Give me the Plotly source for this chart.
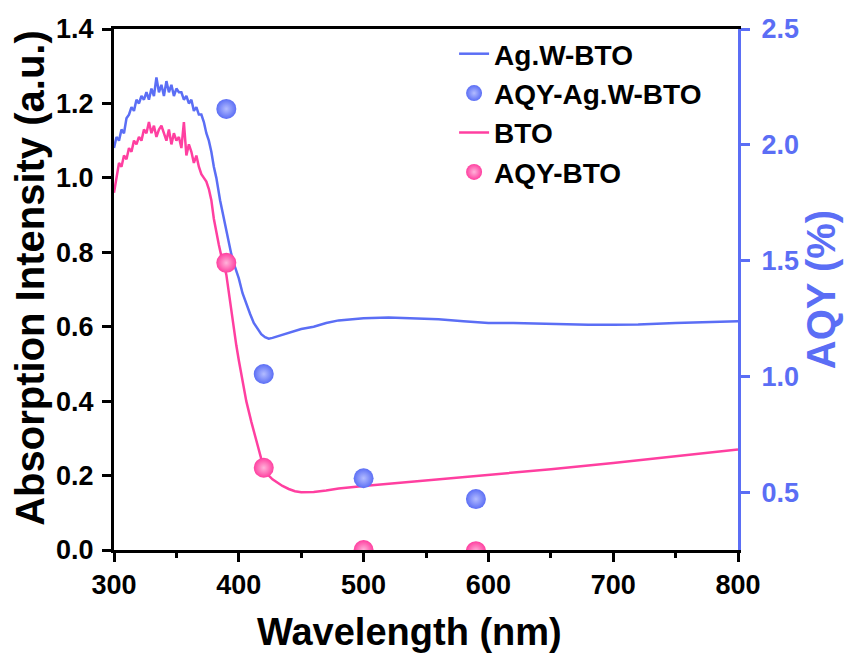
import plotly.graph_objects as go

# ---------------- data ----------------
wl_agw = [300, 302, 304, 306, 308, 310, 312, 314, 316, 318, 320, 322, 324, 326, 328,
          330, 332, 334, 336, 338, 340, 342, 344, 346, 348, 350, 352, 354, 356, 358,
          360, 362, 364, 366, 368, 370, 372, 374, 376, 378, 380, 382, 385, 388, 391,
          394, 397, 400, 403, 406, 409, 412, 415, 418, 421, 424, 427, 430, 435, 440,
          445, 450, 460, 470, 480, 490, 500, 520, 540, 560, 580, 600, 620, 650, 680,
          700, 720, 750, 780, 800]
abs_agw = [1.08, 1.11, 1.10, 1.13, 1.12, 1.16, 1.17, 1.19, 1.18, 1.21, 1.20, 1.22, 1.21, 1.23, 1.21,
           1.24, 1.22, 1.27, 1.23, 1.25, 1.22, 1.26, 1.23, 1.25, 1.22, 1.24, 1.23, 1.23, 1.21, 1.22,
           1.20, 1.21, 1.18, 1.19, 1.17, 1.17, 1.15, 1.12, 1.10, 1.07, 1.03, 1.00, 0.94, 0.89, 0.84,
           0.795, 0.76, 0.73, 0.69, 0.66, 0.635, 0.61, 0.595, 0.58, 0.572, 0.568, 0.57, 0.573, 0.58, 0.585,
           0.59, 0.594, 0.60, 0.61, 0.617, 0.62, 0.623, 0.625, 0.623, 0.62, 0.615, 0.61, 0.61, 0.607, 0.605,
           0.605, 0.606, 0.61, 0.612, 0.615]

wl_bto = [300, 302, 304, 306, 308, 310, 312, 314, 316, 318, 320, 322, 324, 326, 328,
          330, 332, 334, 336, 338, 340, 342, 344, 346, 348, 350, 352, 354, 356, 358,
          360, 362, 364, 366, 368, 370, 372, 374, 376, 378, 380, 382, 384, 386, 388,
          390, 392, 394, 396, 398, 400, 403, 406, 410, 414, 418, 421, 424, 427, 430,
          435, 440, 445, 450, 455, 460, 470, 480, 500, 520, 550, 580, 600, 650, 700,
          750, 800]
abs_bto = [0.96, 1.00, 1.04, 1.03, 1.06, 1.05, 1.08, 1.07, 1.10, 1.09, 1.11, 1.10, 1.13, 1.12, 1.15,
           1.12, 1.14, 1.11, 1.13, 1.14, 1.12, 1.10, 1.13, 1.09, 1.12, 1.10, 1.11, 1.08, 1.15, 1.06,
           1.09, 1.07, 1.04, 1.06, 1.03, 1.01, 1.00, 0.99, 0.97, 0.94, 0.89, 0.85, 0.82, 0.79, 0.77,
           0.74, 0.69, 0.64, 0.59, 0.55, 0.51, 0.455, 0.40, 0.345, 0.296, 0.245, 0.22, 0.20, 0.19, 0.183,
           0.172, 0.164, 0.158, 0.155, 0.155, 0.156, 0.16, 0.165, 0.172, 0.178, 0.187, 0.196, 0.202, 0.217, 0.234,
           0.252, 0.27]

aqy_wl = [390, 420, 500, 590]
aqy_agw = [2.155, 1.01, 0.56, 0.47]
aqy_bto = [1.49, 0.605, 0.25, 0.245]

x_ticks = [300, 400, 500, 600, 700, 800]
y_ticks = [0.0, 0.2, 0.4, 0.6, 0.8, 1.0, 1.2, 1.4]
y2_ticks = [0.5, 1.0, 1.5, 2.0, 2.5]

BLUE = "#5b6ef5"
PINK = "#ff3fa0"
FONT = "Liberation Sans"

fig = go.Figure()
fig.add_trace(go.Scatter(x=wl_agw, y=abs_agw, mode="lines", name="Ag.W-BTO",
                         line=dict(color=BLUE, width=2.5)))
fig.add_trace(go.Scatter(x=aqy_wl, y=aqy_agw, mode="markers", name="AQY-Ag.W-BTO", yaxis="y2",
                         marker=dict(color=BLUE, size=20,
                                     gradient=dict(type="radial", color="#b3bcff"))))
fig.add_trace(go.Scatter(x=wl_bto, y=abs_bto, mode="lines", name="BTO",
                         line=dict(color=PINK, width=2.5)))
fig.add_trace(go.Scatter(x=aqy_wl, y=aqy_bto, mode="markers", name="AQY-BTO", yaxis="y2",
                         marker=dict(color=PINK, size=20,
                                     gradient=dict(type="radial", color="#ffb3da"))))

fig.update_layout(
    width=846, height=654,
    margin=dict(l=114, r=108, t=29, b=104),
    paper_bgcolor="white", plot_bgcolor="white",
    font=dict(family=FONT, size=27, color="black", weight="bold"),
    showlegend=True,
    legend=dict(x=0.545, y=1.0, xanchor="left", yanchor="top",
                bgcolor="rgba(0,0,0,0)", font=dict(size=28, weight="bold"),
                tracegroupgap=0, itemwidth=30),
    xaxis=dict(range=[300, 800], tickvals=x_ticks, showgrid=False, zeroline=False,
               showline=True, linecolor="black", linewidth=3, mirror=True,
               ticks="outside", ticklen=9, tickwidth=3, tickcolor="black",
               minor=dict(dtick=50, ticks="outside", ticklen=5, tickwidth=3, tickcolor="black"),
               tickfont=dict(size=27, weight="bold")),
    yaxis=dict(range=[0, 1.4], tickvals=y_ticks, tickformat=".1f", showgrid=False, zeroline=False,
               showline=True, linecolor="black", linewidth=3,
               ticks="outside", ticklen=9, tickwidth=3, tickcolor="black",
               ticklabelstandoff=3,
               tickfont=dict(size=27, weight="bold")),
    yaxis2=dict(range=[0.25, 2.5], tickvals=y2_ticks, tickformat=".1f", overlaying="y", side="right",
                showgrid=False, zeroline=False, showline=True, linecolor=BLUE, linewidth=3,
                ticks="outside", ticklen=9, tickwidth=3, tickcolor=BLUE,
                ticklabelstandoff=6,
                tickfont=dict(size=27, color=BLUE, weight="bold"),
                title=dict(text="AQY (%)", font=dict(size=40, color=BLUE, weight="bold"), standoff=6)),
    annotations=[
        dict(text="Wavelength (nm)", xref="paper", yref="paper", x=0.474, y=-0.157,
             xanchor="center", yanchor="middle", showarrow=False,
             font=dict(size=38, weight="bold", color="black")),
        dict(text="Absorption Intensity (a.u.)", xref="paper", yref="paper", x=-0.135, y=0.522,
             xanchor="center", yanchor="middle", textangle=-90, showarrow=False,
             font=dict(size=40, weight="bold", color="black")),
    ],
)

fig.write_html("out.html")
